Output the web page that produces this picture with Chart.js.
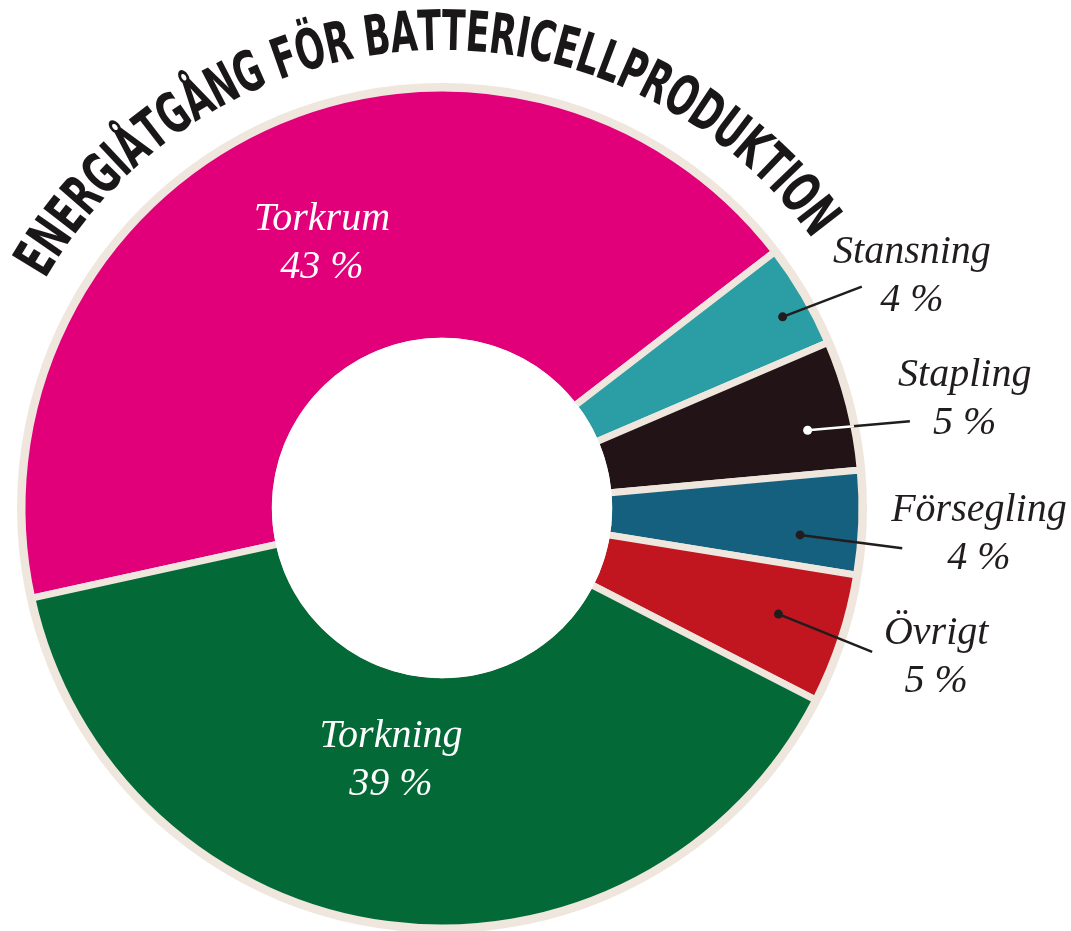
<!DOCTYPE html>
<html lang="sv">
<head>
<meta charset="utf-8">
<title>Energiåtgång för battericellproduktion</title>
<script src="https://cdn.jsdelivr.net/npm/chart.js@4.4.1/dist/chart.umd.min.js"></script>
<style>
  html, body { margin: 0; padding: 0; background: #ffffff; }
  #wrap { width: 1071px; height: 931px; }
</style>
</head>
<body>
<div id="wrap"><canvas id="chartEnergi" width="1071" height="931"></canvas></div>
<script>
// Data (avläst från grafiken)
const titel = 'ENERGIÅTGÅNG FÖR BATTERICELLPRODUKTION';
const kategorier = ['Torkrum', 'Stansning', 'Stapling', 'Försegling', 'Övrigt', 'Torkning'];
const andelar = [43, 4, 5, 4, 5, 39];
const farger = ['#e2007a', '#2b9ea5', '#221416', '#16607f', '#c1161f', '#036936'];

const KRAM = '#efe6dd';
const MORK = '#211d1e';

// Placering av etiketter: radie som andel av ytterradien, vinkel i grader relativt segmentets mitt
const etikettLayout = [
    { inne: true, r: 0.49, da: 0.6 },
    { dot: [0.93, 1.1], slut: [1.13, 2.6], text: [1.247, 4.2] },
    { dot: [0.89, 2.2], slut: [1.133, 3.7], text: [1.271, 2.5], vitLinje: true },
    { dot: [0.855, 2.3], slut: [1.10, 3.0], text: [1.28, 0.8] },
    { dot: [0.84, -0.7], slut: [1.08, 0.3], text: [1.229, -1.4] },
    { inne: true, r: 0.36, da: 4 }
];

const deg = Math.PI / 180;

function polar(a, ang, r) {
    return [a.x + Math.cos(ang) * r, a.y + Math.sin(ang) * r];
}

function tvaRader(ctx, x, y, rad1, rad2) {
    ctx.textAlign = 'center';
    ctx.textBaseline = 'middle';
    ctx.fillText(rad1, x, y - 24);
    ctx.fillText(rad2, x, y + 24);
}

// Ring i krämfärg bakom segmenten, vitt hål i mitten
const ringPlugin = {
    id: 'ring',
    beforeDatasetsDraw(chart) {
        const a = chart.getDatasetMeta(0).data[0];
        if (!a) return;
        const ctx = chart.ctx;
        ctx.save();
        ctx.fillStyle = KRAM;
        ctx.beginPath();
        ctx.arc(a.x, a.y, a.outerRadius + 5, 0, Math.PI * 2);
        ctx.fill();
        ctx.restore();
    },
    afterDatasetsDraw(chart) {
        const a = chart.getDatasetMeta(0).data[0];
        if (!a) return;
        const ctx = chart.ctx;
        ctx.save();
        ctx.fillStyle = '#ffffff';
        ctx.beginPath();
        ctx.arc(a.x, a.y, a.innerRadius + 3.5, 0, Math.PI * 2);
        ctx.fill();
        ctx.restore();
    }
};

const etikettPlugin = {
    id: 'etiketter',
    afterDatasetsDraw(chart) {
        const ctx = chart.ctx;
        const arcs = chart.getDatasetMeta(0).data;
        ctx.save();
        ctx.font = 'italic 40px "Liberation Serif", "DejaVu Serif", serif';
        arcs.forEach((arc, i) => {
            const lay = etikettLayout[i];
            const p = arc.getProps(['x', 'y', 'startAngle', 'endAngle', 'innerRadius', 'outerRadius'], true);
            const mitt = (p.startAngle + p.endAngle) / 2;
            const R = p.outerRadius;
            const rad2 = andelar[i] + ' %';
            if (lay.inne) {
                const r = p.innerRadius + (R - p.innerRadius) * lay.r;
                const [tx, ty] = polar(p, mitt + lay.da * deg, r);
                ctx.fillStyle = '#ffffff';
                tvaRader(ctx, tx, ty, kategorier[i], rad2);
                return;
            }
            const [dx, dy] = polar(p, mitt + lay.dot[1] * deg, R * lay.dot[0]);
            const [ex, ey] = polar(p, mitt + lay.slut[1] * deg, R * lay.slut[0]);
            ctx.lineWidth = 2.5;
            ctx.strokeStyle = MORK;
            ctx.beginPath();
            ctx.moveTo(dx, dy);
            ctx.lineTo(ex, ey);
            ctx.stroke();
            ctx.fillStyle = MORK;
            if (lay.vitLinje) {
                ctx.save();
                ctx.beginPath();
                ctx.arc(p.x, p.y, R, 0, Math.PI * 2);
                ctx.clip();
                ctx.strokeStyle = '#ffffff';
                ctx.beginPath();
                ctx.moveTo(dx, dy);
                ctx.lineTo(ex, ey);
                ctx.stroke();
                ctx.restore();
                ctx.fillStyle = '#ffffff';
            }
            ctx.beginPath();
            ctx.arc(dx, dy, 4.5, 0, Math.PI * 2);
            ctx.fill();
            const [tx, ty] = polar(p, mitt + lay.text[1] * deg, R * lay.text[0]);
            ctx.fillStyle = MORK;
            tvaRader(ctx, tx, ty, kategorier[i], rad2);
        });
        ctx.restore();
    }
};

// Rubrik längs en båge ovanför ringen
const titelPlugin = {
    id: 'titelBage',
    afterDraw(chart) {
        const a = chart.getDatasetMeta(0).data[0];
        if (!a) return;
        const ctx = chart.ctx;
        const rBas = a.outerRadius + 38;
        const rSteg = rBas + 10;
        const start = -150 * deg;
        const slut = -36 * deg;
        ctx.save();
        ctx.font = 'bold 56px "Liberation Sans Narrow", "DejaVu Sans Condensed", "Liberation Sans", sans-serif';
        ctx.fillStyle = '#1a1718';
        ctx.textAlign = 'center';
        ctx.textBaseline = 'alphabetic';
        const tecken = [...titel];
        const bredder = tecken.map(t => ctx.measureText(t).width);
        const total = bredder.reduce((s, b) => s + b, 0);
        const sx = (slut - start) * rSteg / total;
        let v = start;
        tecken.forEach((t, i) => {
            const w = bredder[i] * sx;
            const m = v + (w / 2) / rSteg;
            ctx.save();
            ctx.translate(a.x + Math.cos(m) * rBas, a.y + Math.sin(m) * rBas);
            ctx.rotate(m + Math.PI / 2);
            ctx.scale(sx, 1);
            ctx.fillText(t, 0, 0);
            ctx.restore();
            v += w / rSteg;
        });
        ctx.restore();
    }
};

new Chart(document.getElementById('chartEnergi'), {
    type: 'doughnut',
    data: {
        labels: kategorier,
        datasets: [{
            data: andelar,
            backgroundColor: farger,
            borderColor: KRAM,
            borderWidth: 7,
            borderJoinStyle: 'miter',
            hoverOffset: 0
        }]
    },
    options: {
        responsive: false,
        animation: false,
        events: [],
        devicePixelRatio: 1,
        radius: 420,
        cutout: 166.5,
        rotation: 257.6,
        layout: { padding: { left: 0, right: 187, top: 85, bottom: 0 } },
        plugins: {
            legend: { display: false },
            tooltip: { enabled: false }
        }
    },
    plugins: [ringPlugin, etikettPlugin, titelPlugin]
});
</script>
</body>
</html>
